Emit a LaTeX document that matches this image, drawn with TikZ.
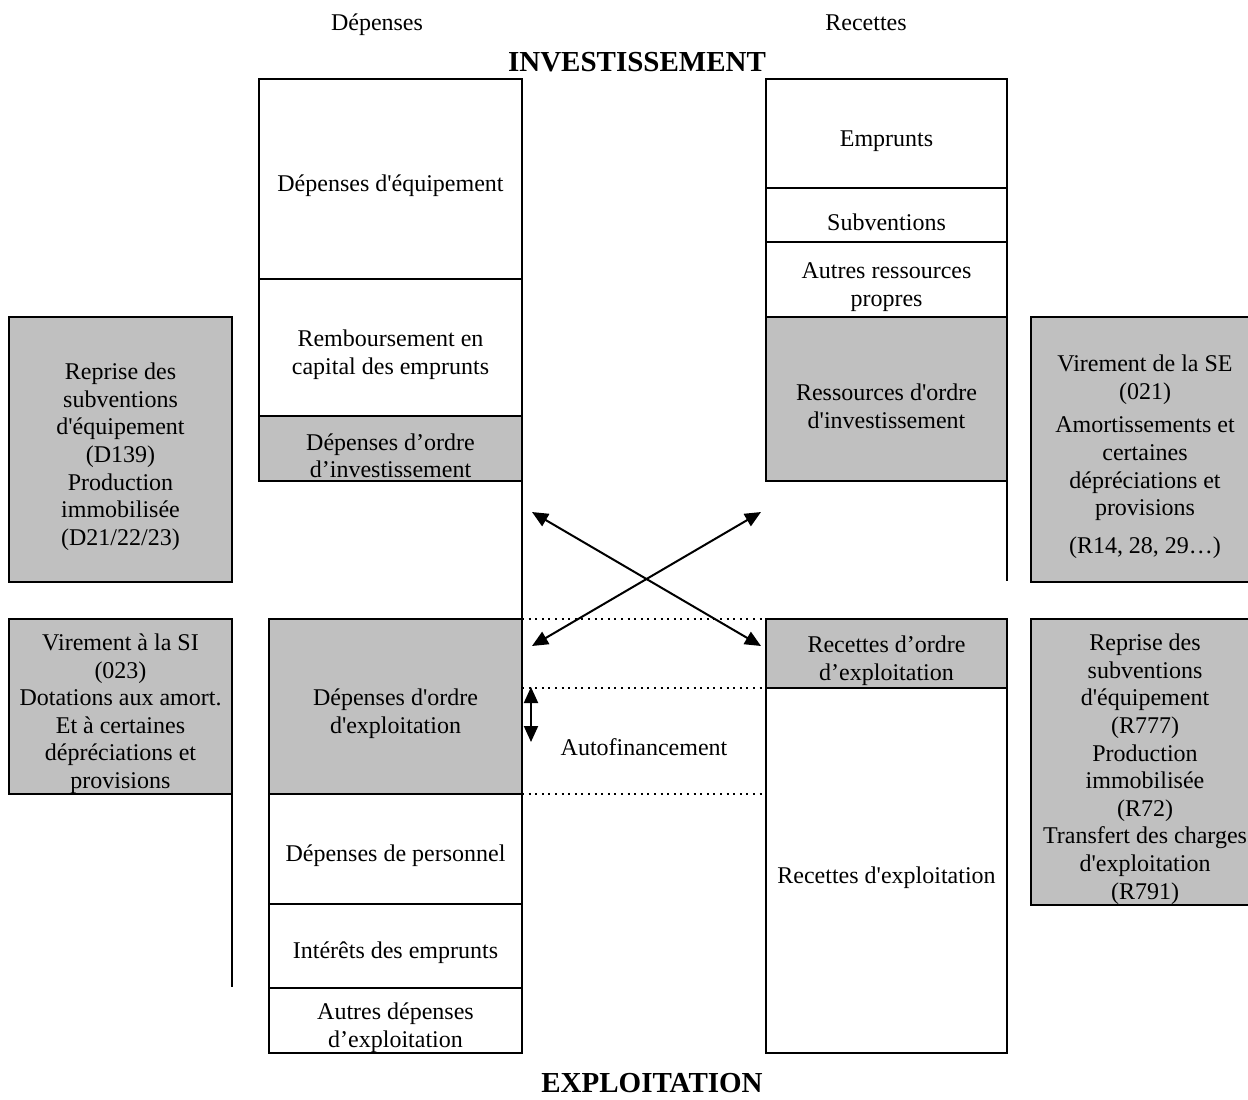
\documentclass[tikz,border=0pt]{standalone}
\usepackage{fontspec}
\setmainfont{Liberation Serif}[Ligatures=TeXOff]
\usetikzlibrary{arrows.meta}
\definecolor{gris}{RGB}{192,192,192}
\newcommand{\decale}{\rule{0pt}{15.5pt}}

\begin{document}
\begin{tikzpicture}[x=0.5pt, y=-0.5pt,
    every node/.style={font=\fontsize{12}{13.8}\selectfont},
    cell/.style={draw, line width=1pt, inner sep=0pt, outer sep=0pt, align=center},
    ordre/.style={cell, fill=gris},
    titre/.style={font=\fontsize{14.5}{17}\selectfont\bfseries},
    fleche/.style={line width=1pt, {Triangle[length=8pt,width=7pt]}-{Triangle[length=8pt,width=7pt]}},
    pointille/.style={line width=0.8pt, dash pattern=on 1pt off 2.3pt}]

    \useasboundingbox (0,0) rectangle (1248,1099);

    \node[anchor=base] (dep) at (377,30) {Dépenses};
    \node[anchor=base] (rec) at (866,30) {Recettes};
    \node[titre] (inv) at (637,62) {INVESTISSEMENT};
    \node[titre] (expl) at (652,1083) {EXPLOITATION};

    % investissement
    \node[cell, minimum width=131.5pt, minimum height=100pt] (equip) at (390.5,179) {\decale Dépenses d'équipement};
    \node[cell, minimum width=131.5pt, minimum height=68.5pt] (remb) at (390.5,347.5) {\decale Remboursement en\\capital des emprunts};
    \node[ordre, minimum width=131.5pt, minimum height=32.5pt] (depinv) at (390.5,448.5) {\decale Dépenses d’ordre\\d’investissement};

    \node[cell, minimum width=120.5pt, minimum height=54.5pt] (emprunts) at (886.5,133.5) {\decale Emprunts};
    \node[cell, minimum width=120.5pt, minimum height=27pt] (subv) at (886.5,215) {\decale Subventions};
    \node[cell, minimum width=120.5pt, minimum height=37.5pt] (propres) at (886.5,279.5) {\decale Autres ressources\\propres};
    \node[ordre, minimum width=120.5pt, minimum height=82pt] (recinv) at (886.5,399) {\decale Ressources d'ordre\\d'investissement};

    % exploitation
    \node[ordre, minimum width=126.5pt, minimum height=87.5pt] (depexp) at (395.5,706.5) {\decale Dépenses d'ordre\\d'exploitation};
    \node[cell, minimum width=126.5pt, minimum height=55pt] (perso) at (395.5,849) {\decale Dépenses de personnel};
    \node[cell, minimum width=126.5pt, minimum height=42pt] (interets) at (395.5,946) {\decale Intérêts des emprunts};
    \node[cell, minimum width=126.5pt, minimum height=32.5pt] (autresdep) at (395.5,1020.5) {\decale Autres dépenses\\d’exploitation};

    \node[ordre, minimum width=120.5pt, minimum height=34.5pt] (record) at (886.5,653.5) {\decale Recettes d’ordre\\d’exploitation};
    \node[cell, minimum width=120.5pt, minimum height=182.5pt] (recexp) at (886.5,870.5) {\decale Recettes d'exploitation};

    % ordres
    \node[ordre, minimum width=111.5pt, minimum height=132.5pt] (reprise) at (120.5,449.5) {\decale Reprise des\\subventions\\d'équipement\\(D139)\\Production\\immobilisée\\(D21/22/23)};
    \node[ordre, minimum width=111.5pt, minimum height=87.5pt] (virsi) at (120.5,706.5) {\decale Virement à la SI\\(023)\\Dotations aux amort.\\Et à certaines\\dépréciations et\\provisions};
    \node[ordre, minimum width=114pt, minimum height=132.5pt] (virse) at (1145,449.5) {\decale Virement de la SE\\(021)\\[3pt]Amortissements et\\certaines\\dépréciations et\\provisions\\[5pt](R14, 28, 29…)};
    \node[ordre, minimum width=114pt, minimum height=143pt] (reprr) at (1145,762) {\decale Reprise des\\subventions\\d'équipement\\(R777)\\Production\\immobilisée\\(R72)\\Transfert des charges\\d'exploitation\\(R791)};

    \coordinate (finse) at (1007,581);
    \coordinate (finsi) at (232,987);
    \draw[line width=1pt] (depinv.south east) -- (depexp.north east);
    \draw[line width=1pt] (recinv.south east) -- (finse);
    \draw[line width=1pt] (virsi.south east) -- (finsi);

    \draw[pointille] (depexp.north east) -- (record.north west);
    \draw[pointille] (record.south west -| depexp.east) -- (record.south west);
    \draw[pointille] (depexp.south east) -- (depexp.south east -| recexp.west);

    \coordinate (hg) at (532,512);
    \coordinate (hd) at (761,512);
    \coordinate (bg) at (532,646);
    \coordinate (bd) at (761,646);
    \draw[fleche] (hg) -- (bd);
    \draw[fleche] (hd) -- (bg);

    \coordinate (afhaut) at (531,687);
    \coordinate (afbas) at (531,742);
    \draw[fleche] (afhaut) -- (afbas);
    \node (autof) at (644,747) {Autofinancement};

\end{tikzpicture}
\end{document}
